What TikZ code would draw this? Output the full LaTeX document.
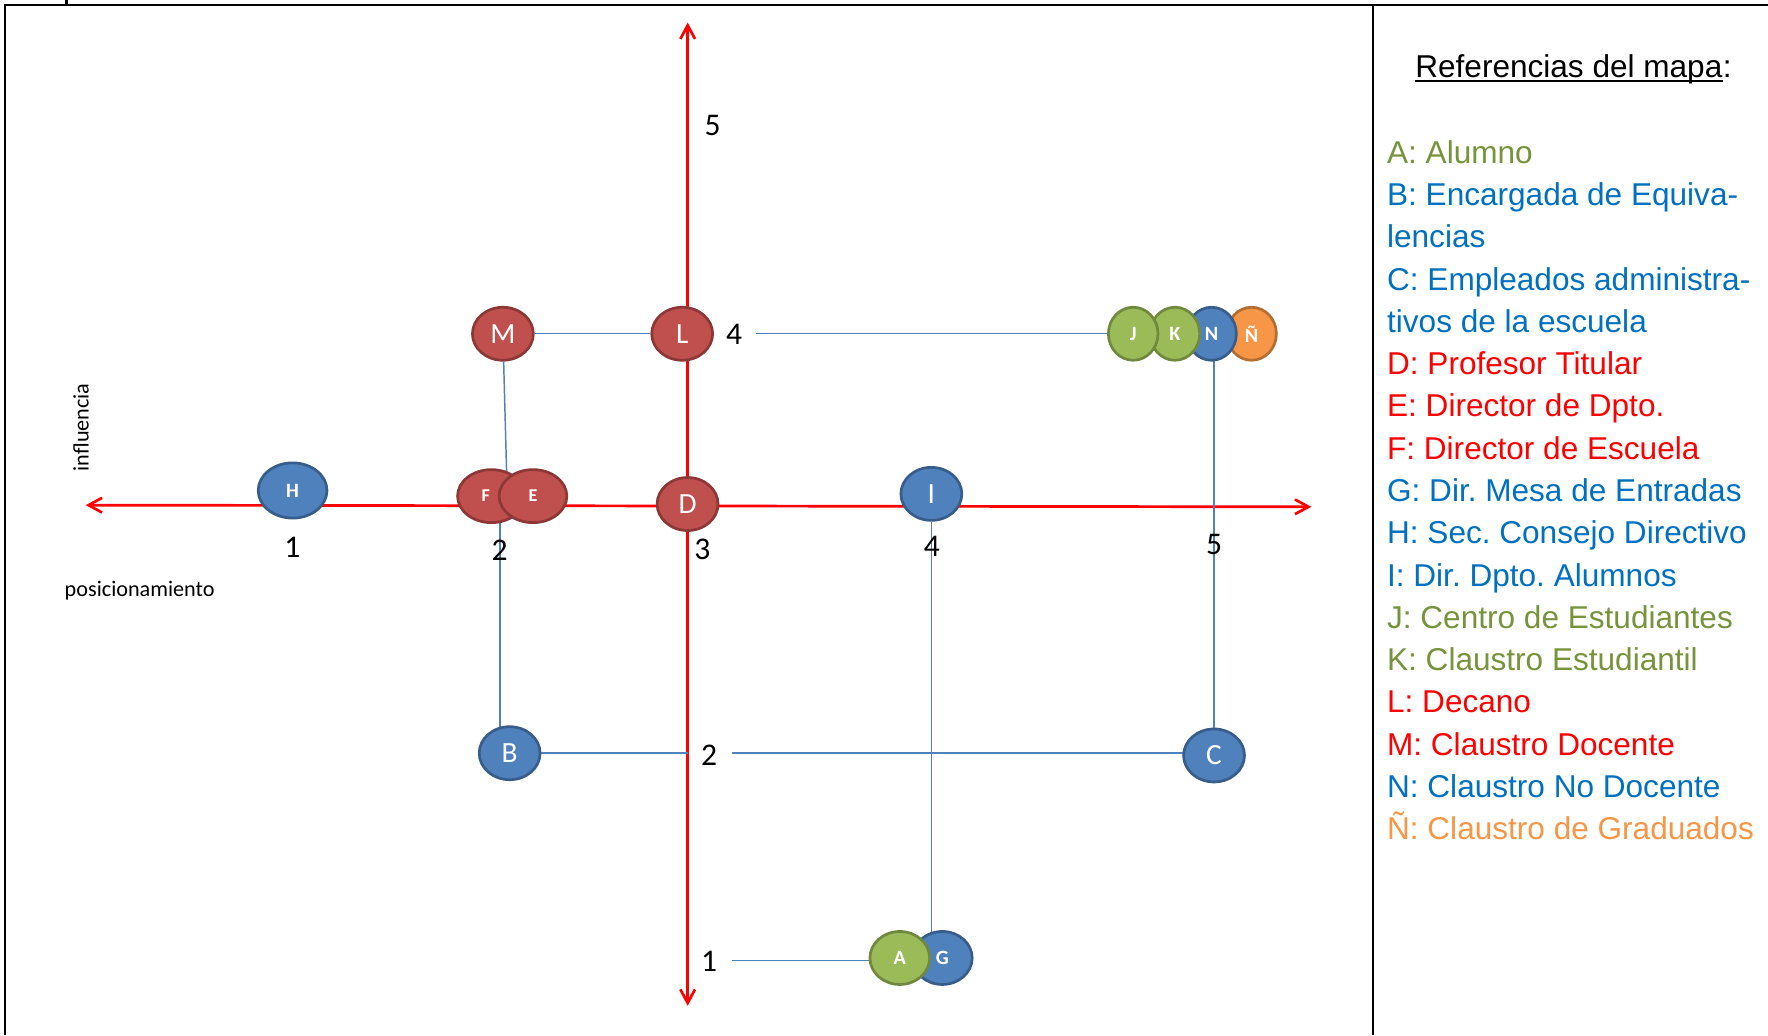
\documentclass[tikz,border=0pt]{standalone}
\usepackage{fontspec}
\setmainfont{Liberation Sans}
\newfontfamily\calib{Carlito}
\usetikzlibrary{shapes.geometric,arrows.meta,backgrounds}
\definecolor{nred}{HTML}{C0504D}
\definecolor{nredd}{HTML}{8C3836}
\definecolor{nblue}{HTML}{4F81BD}
\definecolor{nblued}{HTML}{385D8A}
\definecolor{ngreen}{HTML}{9BBB59}
\definecolor{ngreend}{HTML}{71893F}
\definecolor{norange}{HTML}{F79646}
\definecolor{noranged}{HTML}{B66D31}
\definecolor{tgreen}{HTML}{77933C}
\definecolor{tblue}{HTML}{0070C0}
\definecolor{tred}{HTML}{FF0000}
\definecolor{torange}{HTML}{F79646}
\frenchspacing
\begin{document}
\begin{tikzpicture}[x=1pt,y=-1pt,
  nd/.style={ellipse,inner sep=0pt,line width=2.4pt,text=white},
  rednd/.style={nd,fill=nred,draw=nredd},
  bluend/.style={nd,fill=nblue,draw=nblued},
  greennd/.style={nd,fill=ngreen,draw=ngreend},
  orangend/.style={nd,fill=norange,draw=noranged},
  big/.style={minimum width=54pt,minimum height=47pt,font=\calib\fontsize{26}{26}\selectfont},
  sml/.style={font=\calib\bfseries\fontsize{18}{18}\selectfont},
  jk/.style={sml,minimum width=44pt,minimum height=47pt},
  fe/.style={minimum width=60pt,minimum height=47pt,font=\calib\bfseries\fontsize{16}{16}\selectfont},
  ag/.style={sml,minimum width=53pt,minimum height=47pt},
  ticklab/.style={font=\calib\fontsize{28}{28}\selectfont,inner sep=0pt},
  axlab/.style={font=\calib\fontsize{19.7}{20}\selectfont,inner sep=0pt},
  conn/.style={draw=nblue,line width=1.3pt},
  redaxis/.style={draw=red,line width=2.4pt,>={Straight Barb[length=12pt,width=13pt]},<->},
  leg/.style={anchor=base west,inner sep=0pt,font=\fontsize{28}{28}\selectfont},
  frame/.style={draw=black,line width=1.8pt}]
\useasboundingbox (0,0) rectangle (1568,918);

% nodes
\node[rednd,big] (M) at (446,296) {M};
\node[rednd,big] (L) at (605,296) {L};
\node[orangend,jk] (Nt) at (1110,296) {Ñ};
\node[bluend,jk] (N) at (1074.5,296) {N};
\node[greennd,jk] (K) at (1042,296) {K};
\node[greennd,jk] (J) at (1005,296) {J};
\node[bluend,sml,minimum width=61pt,minimum height=49pt] (H) at (259.5,435) {H};
\node[rednd,fe] (F) at (435.8,440) {\makebox[0pt]{\kern-10pt F}};
\node[rednd,fe] (E) at (472.7,440) {E};
\node[rednd,big] (D) at (609.8,447) {D};
\node[bluend,big] (I) at (826,438) {I};
\node[bluend,big] (B) at (452,668) {B};
\node[bluend,big] (C) at (1076.7,670) {C};
\node[bluend,ag] (G) at (835.7,849.6) {G};
\node[greennd,ag] (A) at (798,849.6) {A};

% tick labels
\node[ticklab] (v5) at (632,110.9) {5};
\node[ticklab] (v4) at (651,296.5) {4};
\node[ticklab] (v3) at (623,487) {3};
\node[ticklab] (v2) at (629,669.6) {2};
\node[ticklab] (v1) at (629,853) {1};
\node[ticklab] (h1) at (259.4,485) {1};
\node[ticklab] (h2) at (443,487.8) {2};
\node[ticklab] (h4) at (826.4,484.8) {4};
\node[ticklab] (h5) at (1076.8,483.3) {5};

% axis names
\node[axlab,rotate=90] (infl) at (72,379) {influencia};
\node[axlab,anchor=base west] (posi) at (57.2,529) {posicionamiento};

% legend
\node[leg] (title) at (1255,68.6) {Referencias del mapa};
\node[leg] (colon) at (title.base east) {:};
\draw[line width=1.8pt] ([yshift=-3pt]title.base west) -- ([yshift=-3pt]title.base east);
\node[leg,text=tgreen] (lA) at (1230,144.8) {A: Alumno};
\node[leg,text=tblue] (lB1) at (1230,182.3) {B: Encargada de Equiva-};
\node[leg,text=tblue] (lB2) at (1230,219.8) {lencias};
\node[leg,text=tblue] (lC1) at (1230,257.3) {C: Empleados administra-};
\node[leg,text=tblue] (lC2) at (1230,294.8) {tivos de la escuela};
\node[leg,text=tred] (lD) at (1230,332.3) {D: Profesor Titular};
\node[leg,text=tred] (lE) at (1230,369.8) {E: Director de Dpto.};
\node[leg,text=tred] (lF) at (1230,407.3) {F: Director de Escuela};
\node[leg,text=tblue] (lG) at (1230,444.8) {G: Dir. Mesa de Entradas};
\node[leg,text=tblue] (lH) at (1230,482.3) {H: Sec. Consejo Directivo};
\node[leg,text=tblue] (lI) at (1230,519.8) {I: Dir. Dpto. Alumnos};
\node[leg,text=tgreen] (lJ) at (1230,557.3) {J: Centro de Estudiantes};
\node[leg,text=tgreen] (lK) at (1230,594.8) {K: Claustro Estudiantil};
\node[leg,text=tred] (lL) at (1230,632.3) {L: Decano};
\node[leg,text=tred] (lM) at (1230,669.8) {M: Claustro Docente};
\node[leg,text=tblue] (lN) at (1230,707.3) {N: Claustro No Docente};
\node[leg,text=torange] (lNt) at (1230,744.8) {Ñ: Claustro de Graduados};

% frame
\draw[frame] (4.5,918) -- (4.5,4.5) -- (1568,4.5);
\draw[frame] (1217.5,4.5) -- (1217.5,918);
\fill (57.5,0) rectangle (60.5,3.5);

% connectors and axes behind the nodes
\begin{scope}[on background layer]
\fill[white] (0,0) rectangle (1568,918);
\coordinate (vtop) at (609.9,20);
\coordinate (vbot) at (609.9,892);
\coordinate (hl) at (76,448);
\coordinate (hr) at (1163,449.5);
\draw[redaxis] (vtop) -- (vbot);
\draw[redaxis] (hl) -- (hr);
\draw[conn] (M) -- (L);
\coordinate (c4) at (670.5,296);
\draw[conn] (c4) -- (J);
\coordinate (mfe) at (449.6,430);
\draw[conn] (M) -- (mfe);
\coordinate (fb) at (443.4,440);
\draw[conn] (fb) -- (fb |- B);
\coordinate (bc1) at (609.9,668);
\coordinate (bc2) at (649,668);
\draw[conn] (B) -- (bc1);
\draw[conn] (bc2) -- (bc2 -| C);
\draw[conn] (I) -- (I |- G);
\draw[conn] (C) -- (C |- N);
\coordinate (c1) at (649,852);
\draw[conn] (c1) -- (c1 -| A);
\end{scope}
\end{tikzpicture}
\end{document}
